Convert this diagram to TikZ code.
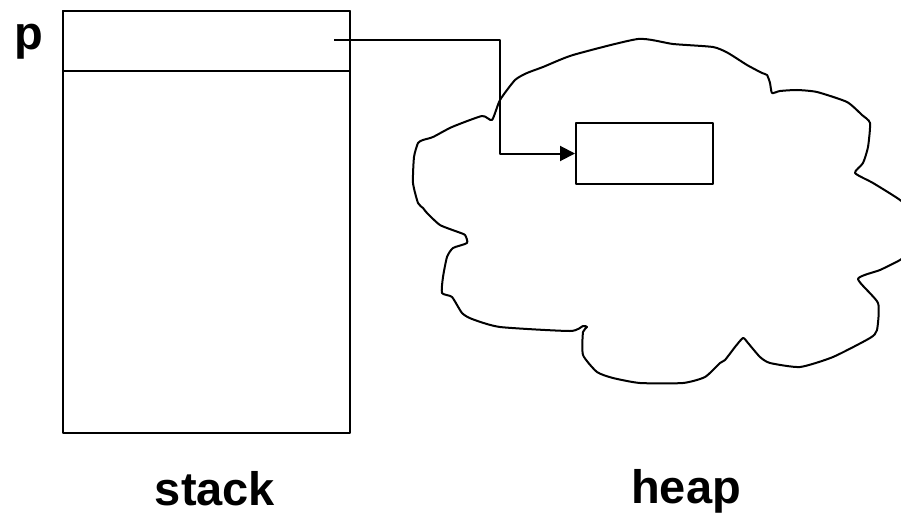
\documentclass[tikz,border=0pt]{standalone}
\usepackage{fontspec}
\setmainfont{Liberation Sans}
\usetikzlibrary{arrows.meta}

\tikzset{
  line/.style={line width=2pt, line join=round},
  box/.style={line, draw, rectangle, inner sep=0pt, minimum width=#1},
  label/.style={font=\fontsize{47}{56}\selectfont\bfseries, inner sep=0pt},
  pointer/.style={line, -{Triangle[length=15pt,width=15pt]}},
}

\begin{document}
\begin{tikzpicture}[x=1pt, y=-1pt]
  \useasboundingbox (0,0) rectangle (901,516);
  \clip (0,0) rectangle (901,516);

  % stack frame with its top slot holding p
  \node[box=287pt, minimum height=422pt, anchor=north west] (stack) at (62,10) {};
  \node[box=287pt, minimum height=60pt, anchor=north west] (slot) at (62,10) {};
  \node[label, anchor=base west] (p) at (14,50) {p};

  % the heap, an irregular cloud
  \draw[line] plot[smooth cycle, tension=0.35] coordinates {
    (492,120) (500,100) (515,80) (527,73) (543,67) (573,55) (638,39)
    (673,44) (713,47) (728,53) (747,65) (762,73) (767,75) (770,83)
    (772,93) (780,91) (797,90) (817,92) (847,102) (862,115) (870,123)
    (868,147) (863,163) (855,173) (873,183) (900,200) (915,215)
    (920,235) (912,250) (900,260) (880,270) (858,279) (878,303)
    (877,330) (870,338) (833,357) (800,367) (770,363) (760,357)
    (748,343) (743,338) (735,347) (725,360) (720,363) (705,377)
    (683,383) (640,383) (613,378) (597,372) (583,355) (583,332)
    (587,327) (583,326) (570,331) (500,327) (472,319) (462,313)
    (452,297) (442,293) (443,277) (447,257) (453,248) (467,243)
    (465,235) (458,232) (440,225) (427,213) (423,208) (418,203)
    (413,183) (414,157) (418,143) (423,140) (433,137) (452,127)
    (482,116)
  };

  % object allocated on the heap
  \node[box=137pt, minimum height=61pt, anchor=north west] (obj) at (575,122) {};

  % pointer from p's slot to the object
  \coordinate (ptr) at (334,40);
  \coordinate (bend) at (500,40);
  \draw[pointer] (ptr) -- (bend) |- (obj.west);

  % captions
  \node[label, anchor=base] (stacklbl) at (215,505) {stack};
  \node[label, anchor=base] (heaplbl) at (686,503) {heap};
\end{tikzpicture}
\end{document}
